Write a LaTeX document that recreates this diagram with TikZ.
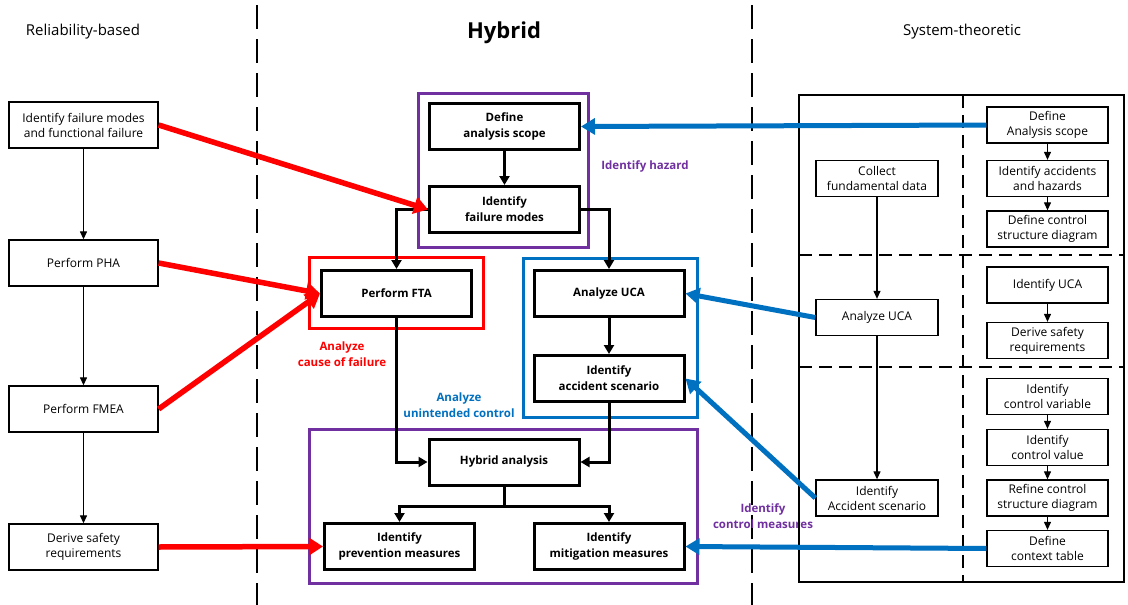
\documentclass[tikz,border=0pt]{standalone}
\usepackage{fontspec}
\setmainfont{Open Sans}
\usetikzlibrary{arrows.meta}
\definecolor{hzpurple}{RGB}{112,48,160}
\definecolor{ucablue}{RGB}{0,112,192}
\begin{document}
\begin{tikzpicture}[x=1pt, y=-1pt,
  every node/.style={font=\fontsize{12}{15}\selectfont, align=center, inner sep=1pt},
  leftbox/.style={draw, line width=1.3pt, minimum width=149pt, minimum height=46pt},
  hybbox/.style={draw, line width=3pt, font=\fontsize{11.5}{16}\selectfont\bfseries, minimum width=150pt, minimum height=46pt},
  stpabox/.style={draw, line width=1.3pt, minimum width=121pt, minimum height=36pt},
  frame/.style={line width=3pt},
  flow/.style={line width=1.2pt, -{Triangle[length=8pt, width=7pt]}},
  hflow/.style={line width=3pt, -{Triangle[length=9pt, width=10pt]}},
  redarr/.style={red, line width=5.5pt, -{Triangle[length=14pt, width=17pt]}},
  bluearr/.style={ucablue, line width=5pt, -{Triangle[length=14pt, width=16pt]}},
  tag/.style={font=\fontsize{11.5}{16}\selectfont\bfseries}]
  \useasboundingbox (0,0) rectangle (1128,605);
  \fill[white] (0,0) rectangle (1128,605);

  \draw[line width=2.5pt, dash pattern=on 24pt off 10pt] (257,5) -- (257,605);
  \draw[line width=2.5pt, dash pattern=on 24pt off 10pt] (752,5) -- (752,605);

  \node at (83,32) {\fontsize{15}{17}\selectfont Reliability-based};
  \node at (504,33) {\fontsize{22}{24}\selectfont\bfseries Hybrid};
  \node at (962,32) {\fontsize{15}{17}\selectfont System-theoretic};

  \node[leftbox] (lfail) at (83.5,125) {Identify failure modes\\and functional failure};
  \node[leftbox] (pha) at (83.5,263) {Perform PHA};
  \node[leftbox] (fmea) at (83.5,409) {Perform FMEA};
  \node[leftbox] (lreq) at (83.5,547) {Derive safety\\requirements};
  \draw[flow] (lfail) -- (pha);
  \draw[flow] (pha) -- (fmea);
  \draw[flow] (fmea) -- (lreq);

  \draw[frame, hzpurple] (418,93) rectangle (588,247);
  \draw[frame, red] (309,257) rectangle (483,328);
  \draw[frame, ucablue] (523,258) rectangle (697,417);
  \draw[frame, hzpurple] (309,429) rectangle (697,583);

  \node[hybbox] (scope) at (504.5,126.5) {Define\\analysis scope};
  \node[hybbox] (fmodes) at (504.5,209.5) {Identify\\failure modes};
  \node[hybbox] (fta) at (396.5,293.5) {Perform FTA};
  \node[hybbox] (uca) at (609,293.5) {Analyze UCA};
  \node[hybbox] (scen) at (609,378.5) {Identify\\accident scenario};
  \node[hybbox] (hyb) at (504,462) {Hybrid analysis};
  \node[hybbox] (prev) at (399.5,546.5) {Identify\\prevention measures};
  \node[hybbox] (miti) at (609,546.5) {Identify\\mitigation measures};

  \draw[hflow] (scope) -- (fmodes);
  \draw[hflow] (fmodes.west) -| (fta.north);
  \draw[hflow] (fmodes.east) -| (uca.north);
  \draw[hflow] (uca) -- (scen);
  \draw[hflow] (fta.south) |- (hyb.west);
  \draw[hflow] (scen.south) |- (hyb.east);
  \draw[hflow] (hyb.south) -- ++(0,20) -| (prev.north);
  \draw[hflow] (hyb.south) -- ++(0,20) -| (miti.north);

  \node[tag, hzpurple] (hazlbl) at (645,166) {Identify hazard};
  \node[tag, red] (faillbl) at (342,354) {Analyze\\cause of failure};
  \node[tag, ucablue] (ctrllbl) at (459,405) {Analyze\\unintended control};
  \node[tag, hzpurple] (measlbl) at (763,516) {Identify\\control measures};

  \draw[line width=1.5pt] (799,95) rectangle (1124,582);
  \draw[line width=1.5pt, dash pattern=on 13pt off 7pt] (963,95) -- (963,582);
  \draw[line width=1.5pt, dash pattern=on 13pt off 7pt] (799,255) -- (1124,255);
  \draw[line width=1.5pt, dash pattern=on 13pt off 7pt] (799,367) -- (1124,367);

  \node[stpabox, minimum width=122pt] (collect) at (877,178.5) {Collect\\fundamental data};
  \node[stpabox, minimum width=122pt] (suca) at (877,317.5) {Analyze UCA};
  \node[stpabox, minimum width=122pt] (sscen) at (877,498) {Identify\\Accident scenario};
  \draw[flow] (collect) -- (suca);
  \draw[flow] (suca) -- (sscen);

  \node[stpabox] (sscope) at (1047.5,125) {Define\\Analysis scope};
  \node[stpabox] (shaz) at (1047.5,178.5) {Identify accidents\\and hazards};
  \node[stpabox] (sctrl) at (1047.5,229) {Define control\\structure diagram};
  \node[stpabox] (suca2) at (1047.5,285) {Identify UCA};
  \node[stpabox] (sreq) at (1047.5,340.5) {Derive safety\\requirements};
  \node[stpabox] (svar) at (1047.5,396.5) {Identify\\control variable};
  \node[stpabox] (sval) at (1047.5,447.5) {Identify\\control value};
  \node[stpabox] (sref) at (1047.5,498) {Refine control\\structure diagram};
  \node[stpabox] (sctx) at (1047.5,548.5) {Define\\context table};
  \draw[flow] (sscope) -- (shaz);
  \draw[flow] (shaz) -- (sctrl);
  \draw[flow] (suca2) -- (sreq);
  \draw[flow] (svar) -- (sval);
  \draw[flow] (sval) -- (sref);
  \draw[flow] (sref) -- (sctx);

  \draw[redarr] (lfail.east) -- (fmodes.west);
  \draw[redarr] (pha.east) -- (fta.west);
  \draw[redarr] (fmea.east) -- (fta.west);
  \draw[redarr] (lreq.east) -- (prev.west);

  \draw[bluearr] (sscope.west) -- (scope.east);
  \draw[bluearr] (suca.west) -- (uca.east);
  \draw[bluearr] (sscen.west) -- (scen.east);
  \draw[bluearr] (sctx.west) -- (miti.east);
\end{tikzpicture}
\end{document}
